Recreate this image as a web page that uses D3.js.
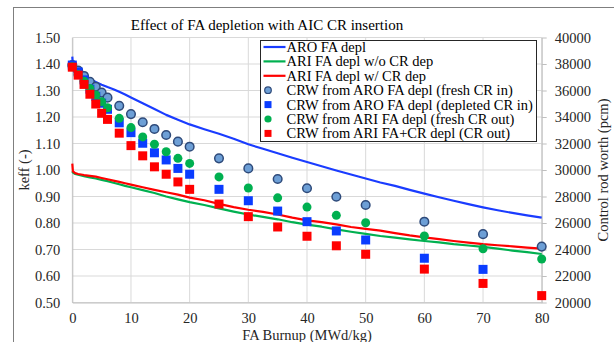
<!DOCTYPE html>
<html>
<head>
<meta charset="utf-8">
<script src="https://cdn.jsdelivr.net/npm/d3@7"></script>
<style>
  html, body { margin: 0; padding: 0; background: #fff; }
  svg { display: block; }
  svg text { font-family: "Liberation Serif", Tinos, "Times New Roman", "DejaVu Serif", serif; }
</style>
</head>
<body>
<svg id="chart" width="614" height="342"></svg>
<script>
// ─── Data ────────────────────────────────────────────────────────────
// burnup grid for the keff lines (MWd/kg)
const lineBurnup = [0, 0.1, 0.5, 1, 2, 3, 4, 5, 6, 7, 8, 9, 10, 12, 14, 16, 18, 20,
  22.5, 25, 27.5, 30, 32.5, 35, 37.5, 40, 42.5, 45, 47.5, 50, 52.5, 55, 57.5, 60,
  62.5, 65, 67.5, 70, 72.5, 75, 77.5, 80];

const aroFaDepl = [1.428, 1.395, 1.385, 1.375, 1.358, 1.343, 1.332, 1.322, 1.313, 1.305, 1.295, 1.285, 1.274, 1.252, 1.230, 1.208, 1.190, 1.172,
  1.154, 1.137, 1.118, 1.097, 1.080, 1.063, 1.046, 1.030, 1.014, 0.998, 0.983, 0.968, 0.953, 0.940, 0.925, 0.911,
  0.897, 0.884, 0.871, 0.859, 0.848, 0.838, 0.829, 0.820];

const ariNoCrDep = [0.995, 0.990, 0.985, 0.982, 0.977, 0.972, 0.968, 0.963, 0.958, 0.952, 0.946, 0.940, 0.935, 0.924, 0.913, 0.900, 0.889, 0.879,
  0.868, 0.855, 0.843, 0.832, 0.823, 0.814, 0.803, 0.794, 0.786, 0.776, 0.767, 0.759, 0.751, 0.745, 0.738, 0.732,
  0.727, 0.720, 0.715, 0.710, 0.703, 0.696, 0.690, 0.683];

const ariCrDep = [1.024, 0.995, 0.988, 0.985, 0.981, 0.978, 0.975, 0.970, 0.965, 0.960, 0.955, 0.950, 0.945, 0.935, 0.925, 0.916, 0.907, 0.896,
  0.886, 0.872, 0.860, 0.850, 0.842, 0.832, 0.820, 0.810, 0.803, 0.795, 0.785, 0.778, 0.771, 0.762, 0.753, 0.746,
  0.739, 0.732, 0.726, 0.720, 0.716, 0.712, 0.707, 0.703];

// burnup points for control rod worth (pcm, right axis)
const crwBurnup = [0, 1, 2, 3, 4, 5, 6, 8, 10, 12, 14, 16, 18, 20, 25, 30, 35, 40, 45, 50, 60, 70, 80];

const crwAroFresh = [37920, 37500, 37100, 36660, 36280, 35840, 35460, 34840, 34220, 33600, 33100, 32640, 32140, 31760,
  30880, 30120, 29320, 28620, 27980, 27360, 26100, 25160, 24220];
const crwAroDepleted = [37920, 37400, 36800, 36100, 35560, 35040, 34580, 33560, 32820, 32020, 31300, 30760, 30120, 29680,
  28540, 27680, 26900, 26100, 25400, 24720, 23340, 22500, null];
const crwAriFresh = [37800, 37200, 36700, 36160, 35660, 35160, 34700, 33900, 33200, 32500, 31940, 31380, 30880, 30500,
  29480, 28640, 27900, 27200, 26580, 26020, 25020, 24060, 23280];
const crwAriDepl = [37760, 37160, 36460, 35720, 34980, 34280, 33820, 32780, 31840, 31070, 30240, 29680, 29100, 28540,
  27430, 26480, 25700, 25000, 24280, 23640, 22520, 21440, 20520];

const xTicks = [0, 10, 20, 30, 40, 50, 60, 70, 80];
const yLeftTicks = [0.5, 0.6, 0.7, 0.8, 0.9, 1.0, 1.1, 1.2, 1.3, 1.4, 1.5];
const yRightTicks = [20000, 22000, 24000, 26000, 28000, 30000, 32000, 34000, 36000, 38000, 40000];

// ─── Setup ───────────────────────────────────────────────────────────
const svg = d3.select("#chart");

const plotLeft = 72.3, plotRight = 541.7, plotTop = 37.5, plotBottom = 302.5;

const xScale = d3.scaleLinear().domain([0, 80]).range([plotLeft, plotRight]);
const yLeft = d3.scaleLinear().domain([0.5, 1.5]).range([plotBottom, plotTop]);
const yRight = d3.scaleLinear().domain([20000, 40000]).range([plotBottom, plotTop]);

// chart frame
svg.append("rect")
  .attr("x", 13.5).attr("y", 7.5)
  .attr("width", 620).attr("height", 360)
  .attr("fill", "#fff")
  .attr("stroke", "#7f7f7f")
  .attr("stroke-width", 1);

// ─── Grid ────────────────────────────────────────────────────────────
const grid = svg.append("g");
grid.selectAll("line.h")
  .data(yLeftTicks)
  .join("line")
  .attr("x1", plotLeft).attr("x2", plotRight)
  .attr("y1", (d) => yLeft(d)).attr("y2", (d) => yLeft(d))
  .attr("stroke", "#d9d9d9").attr("stroke-width", 1);
grid.selectAll("line.v")
  .data(xTicks)
  .join("line")
  .attr("x1", (d) => xScale(d)).attr("x2", (d) => xScale(d))
  .attr("y1", plotTop).attr("y2", plotBottom)
  .attr("stroke", "#d9d9d9").attr("stroke-width", 1);

// ─── Axes ────────────────────────────────────────────────────────────
function styleAxis(ax) {
  ax.attr("font-family", null);
  ax.select(".domain").attr("stroke", "#bfbfbf");
  ax.selectAll(".tick line").attr("stroke", "#bfbfbf");
  ax.selectAll(".tick text")
    .attr("font-size", 14.5)
    .attr("fill", "#262626");
}

const xAxis = svg.append("g")
  .attr("transform", `translate(0,${plotBottom})`)
  .call(d3.axisBottom(xScale).tickValues(xTicks).tickSize(0).tickPadding(10).tickSizeOuter(0));
styleAxis(xAxis);

const yAxisL = svg.append("g")
  .attr("transform", `translate(${plotLeft},0)`)
  .call(d3.axisLeft(yLeft).tickValues(yLeftTicks).tickFormat(d3.format(".2f")).tickSize(0).tickPadding(12).tickSizeOuter(0));
styleAxis(yAxisL);

const yAxisR = svg.append("g")
  .attr("transform", `translate(${plotRight},0)`)
  .call(d3.axisRight(yRight).tickValues(yRightTicks).tickFormat(d3.format("d")).tickSize(5).tickPadding(8).tickSizeOuter(0));
styleAxis(yAxisR);

// ─── Titles ──────────────────────────────────────────────────────────
svg.append("text")
  .attr("x", 267).attr("y", 30)
  .attr("text-anchor", "middle")
  .attr("font-size", 15)
  .attr("fill", "#000")
  .text("Effect of FA depletion with AIC CR insertion");

svg.append("text")
  .attr("x", 307).attr("y", 340)
  .attr("text-anchor", "middle")
  .attr("font-size", 14.5)
  .attr("fill", "#262626")
  .text("FA Burnup (MWd/kg)");

svg.append("text")
  .attr("transform", `translate(29,${(plotTop + plotBottom) / 2}) rotate(-90)`)
  .attr("text-anchor", "middle")
  .attr("font-size", 14.5)
  .attr("fill", "#262626")
  .text("keff (-)");

svg.append("text")
  .attr("transform", `translate(608,${(plotTop + plotBottom) / 2}) rotate(-90)`)
  .attr("text-anchor", "middle")
  .attr("font-size", 14.5)
  .attr("fill", "#262626")
  .text("Control rod worth (pcm)");

// ─── Lines ───────────────────────────────────────────────────────────
const lineSeries = [
  { name: "ARO FA depl", values: aroFaDepl, color: "#1a3cff" },
  { name: "ARI FA depl w/o CR dep", values: ariNoCrDep, color: "#00b050" },
  { name: "ARI FA depl w/ CR dep", values: ariCrDep, color: "#ff0000" },
];

const lineGen = d3.line()
  .x((d) => xScale(d[0]))
  .y((d) => yLeft(d[1]));

for (const s of lineSeries) {
  svg.append("path")
    .datum(lineBurnup.map((b, i) => [b, s.values[i]]))
    .attr("fill", "none")
    .attr("stroke", s.color)
    .attr("stroke-width", 2.2)
    .attr("stroke-linejoin", "round")
    .attr("d", lineGen);
}

// ─── Markers (right axis) ────────────────────────────────────────────
const markerSeries = [
  { name: "CRW from ARO FA depl (fresh CR in)", values: crwAroFresh, shape: "circle", fill: "#6d9fd6", stroke: "#2e4a7a" },
  { name: "CRW from ARO FA depl (depleted CR in)", values: crwAroDepleted, shape: "square", fill: "#0a3cff", stroke: "none" },
  { name: "CRW from ARI FA depl (fresh CR out)", values: crwAriFresh, shape: "dot", fill: "#00b050", stroke: "none" },
  { name: "CRW from ARI FA+CR depl (CR out)", values: crwAriDepl, shape: "square", fill: "#ff0000", stroke: "none" },
];

function drawMarker(g, shape, cx, cy, m) {
  if (shape === "square") {
    g.append("rect")
      .attr("x", cx - 4.5).attr("y", cy - 4.5)
      .attr("width", 9).attr("height", 9)
      .attr("fill", m.fill);
  } else if (shape === "circle") {
    g.append("circle")
      .attr("cx", cx).attr("cy", cy).attr("r", 4.3)
      .attr("fill", m.fill)
      .attr("stroke", m.stroke).attr("stroke-width", 1.5);
  } else {
    g.append("circle")
      .attr("cx", cx).attr("cy", cy).attr("r", 4.5)
      .attr("fill", m.fill);
  }
}

// draw in series order so later series sit on top
for (const m of markerSeries) {
  const g = svg.append("g");
  crwBurnup.forEach((b, i) => {
    const v = m.values[i];
    if (v == null) return;
    drawMarker(g, m.shape, xScale(b), yRight(v), m);
  });
}

// ─── Legend ──────────────────────────────────────────────────────────
const legend = svg.append("g").attr("transform", "translate(260.5,40.5)");
legend.append("rect")
  .attr("width", 276).attr("height", 101)
  .attr("fill", "#fff")
  .attr("stroke", "#262626").attr("stroke-width", 1);

const rowH = 14.4;
const legendItems = [
  ...lineSeries.map((s) => ({ kind: "line", ...s })),
  ...markerSeries.map((m) => ({ kind: "marker", ...m })),
];

legendItems.forEach((item, i) => {
  const cy = 6.5 + i * rowH;
  if (item.kind === "line") {
    legend.append("line")
      .attr("x1", 3).attr("x2", 25)
      .attr("y1", cy).attr("y2", cy)
      .attr("stroke", item.color).attr("stroke-width", 2.2);
  } else if (item.shape === "square") {
    legend.append("rect")
      .attr("x", 4).attr("y", cy - 3.5)
      .attr("width", 7).attr("height", 7)
      .attr("fill", item.fill);
  } else if (item.shape === "circle") {
    legend.append("circle")
      .attr("cx", 7.5).attr("cy", cy).attr("r", 3.3)
      .attr("fill", item.fill)
      .attr("stroke", item.stroke).attr("stroke-width", 1.2);
  } else {
    legend.append("circle")
      .attr("cx", 7.5).attr("cy", cy).attr("r", 3.6)
      .attr("fill", item.fill);
  }
  legend.append("text")
    .attr("x", 26)
    .attr("y", cy)
    .attr("dy", "0.35em")
    .attr("font-size", 14.5)
    .attr("fill", "#000")
    .text(item.name);
});
</script>
</body>
</html>
